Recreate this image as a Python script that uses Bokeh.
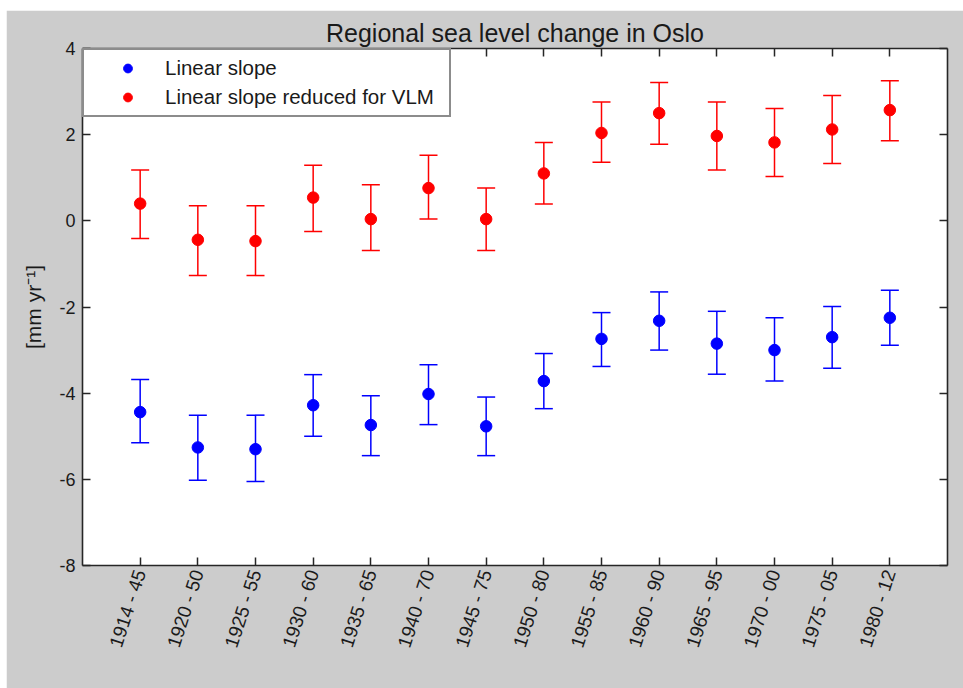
import math
from bokeh.plotting import figure
from bokeh.models import (ColumnDataSource, Whisker, TeeHead, Range1d,
                          FixedTicker, LinearAxis)
from bokeh.embed import file_html
from bokeh.resources import INLINE

# ---------------- data ----------------
labels = ["1914 - 45", "1920 - 50", "1925 - 55", "1930 - 60", "1935 - 65",
          "1940 - 70", "1945 - 75", "1950 - 80", "1955 - 85", "1960 - 90",
          "1965 - 95", "1970 - 00", "1975 - 05", "1980 - 12"]
positions = list(range(1, len(labels) + 1))

red_val = [0.40, -0.44, -0.47, 0.54, 0.04, 0.76, 0.04, 1.10, 2.04, 2.50, 1.97, 1.82, 2.12, 2.57]
red_lo = [-0.41, -1.27, -1.27, -0.25, -0.69, 0.04, -0.69, 0.39, 1.36, 1.78, 1.18, 1.03, 1.33, 1.86]
red_hi = [1.18, 0.35, 0.35, 1.29, 0.84, 1.52, 0.76, 1.82, 2.76, 3.21, 2.76, 2.61, 2.91, 3.25]

blue_val = [-4.44, -5.26, -5.30, -4.28, -4.74, -4.02, -4.77, -3.72, -2.74, -2.32, -2.85, -3.00, -2.70, -2.25]
blue_lo = [-5.15, -6.02, -6.05, -5.00, -5.45, -4.73, -5.45, -4.36, -3.38, -3.00, -3.56, -3.72, -3.42, -2.89]
blue_hi = [-3.68, -4.51, -4.51, -3.57, -4.06, -3.34, -4.09, -3.08, -2.13, -1.65, -2.10, -2.25, -1.99, -1.61]

y_ticks = [-8, -6, -4, -2, 0, 2, 4]
y_tick_labels = ["-8", "-6", "-4", "-2", "0", "2", "4"]

FONT = "Liberation Sans"
TXT = "#1a1a1a"
AX = "#262626"

p = figure(width=957, height=678, output_backend="svg", toolbar_location=None,
           x_range=Range1d(0, 15), y_range=Range1d(-8, 4),
           x_axis_location=None, y_axis_location=None,
           min_border_left=76, min_border_right=16, min_border_top=38,
           min_border_bottom=123,
           background_fill_color="white", border_fill_color="#cccccc",
           outline_line_color=None, margin=(10, 0, 0, 6))
p.grid.visible = False

p.title.text = "Regional sea level change in Oslo"
p.title.align = "center"
p.title.text_font = FONT
p.title.text_font_size = "25px"
p.title.text_font_style = "normal"
p.title.text_color = TXT
p.title.standoff = 3


def style_axis(ax, show):
    ax.major_tick_in = 8
    ax.major_tick_out = 0
    ax.minor_tick_in = 0
    ax.minor_tick_out = 0
    ax.axis_line_color = AX
    ax.axis_line_width = 1.6
    ax.major_tick_line_color = AX
    ax.major_tick_line_width = 1.5
    ax.major_label_text_font = FONT
    ax.major_label_text_color = TXT
    if not show:
        ax.major_label_text_font_size = "0px"
        ax.major_label_standoff = 0


xt = FixedTicker(ticks=positions)
yt = FixedTicker(ticks=y_ticks)

bottom = LinearAxis(ticker=xt)
style_axis(bottom, True)
bottom.major_label_overrides = {pos: lab for pos, lab in zip(positions, labels)}
bottom.major_label_orientation = math.radians(72)
bottom.major_label_text_font_size = "19px"
bottom.major_label_standoff = 5
p.add_layout(bottom, "below")

top = LinearAxis(ticker=xt)
style_axis(top, False)
top.major_label_overrides = {pos: "" for pos in positions}
p.add_layout(top, "above")

left = LinearAxis(ticker=yt)
style_axis(left, True)
left.major_label_overrides = {t: s for t, s in zip(y_ticks, y_tick_labels)}
left.major_label_text_font_size = "18px"
left.major_label_standoff = 7
left.axis_label = "[mm yr\u207b\u00b9]"
left.axis_label_text_font = FONT
left.axis_label_text_font_size = "21px"
left.axis_label_text_font_style = "normal"
left.axis_label_text_color = TXT
left.axis_label_standoff = 11
p.add_layout(left, "left")

right = LinearAxis(ticker=yt)
style_axis(right, False)
right.major_label_overrides = {t: "" for t in y_ticks}
p.add_layout(right, "right")

red_src = ColumnDataSource(dict(x=positions, y=red_val, lo=red_lo, hi=red_hi))
blue_src = ColumnDataSource(dict(x=positions, y=blue_val, lo=blue_lo, hi=blue_hi))

for src, col in ((blue_src, "#0000ff"), (red_src, "#ff0000")):
    w = Whisker(source=src, base="x", lower="lo", upper="hi",
                line_color=col, line_width=1.5,
                upper_head=TeeHead(size=18, line_color=col, line_width=1.5),
                lower_head=TeeHead(size=18, line_color=col, line_width=1.5))
    p.add_layout(w)

p.scatter("x", "y", source=blue_src, size=11.5, color="#0000ff",
          legend_label="Linear slope")
p.scatter("x", "y", source=red_src, size=11.5, color="#ff0000",
          legend_label="Linear slope reduced for VLM")

lg = p.legend[0]
lg.location = "top_left"
lg.margin = 0
lg.padding = 6
lg.spacing = 5
lg.glyph_width = 75
lg.glyph_height = 22
lg.label_height = 22
lg.label_width = 278
lg.label_standoff = 0
lg.label_text_font = FONT
lg.label_text_font_size = "20.5px"
lg.label_text_color = TXT
lg.border_line_color = "#1a1a1a"
lg.border_line_width = 2
lg.background_fill_color = "white"
lg.background_fill_alpha = 1.0

open("out.html", "w").write(file_html(p, INLINE))
